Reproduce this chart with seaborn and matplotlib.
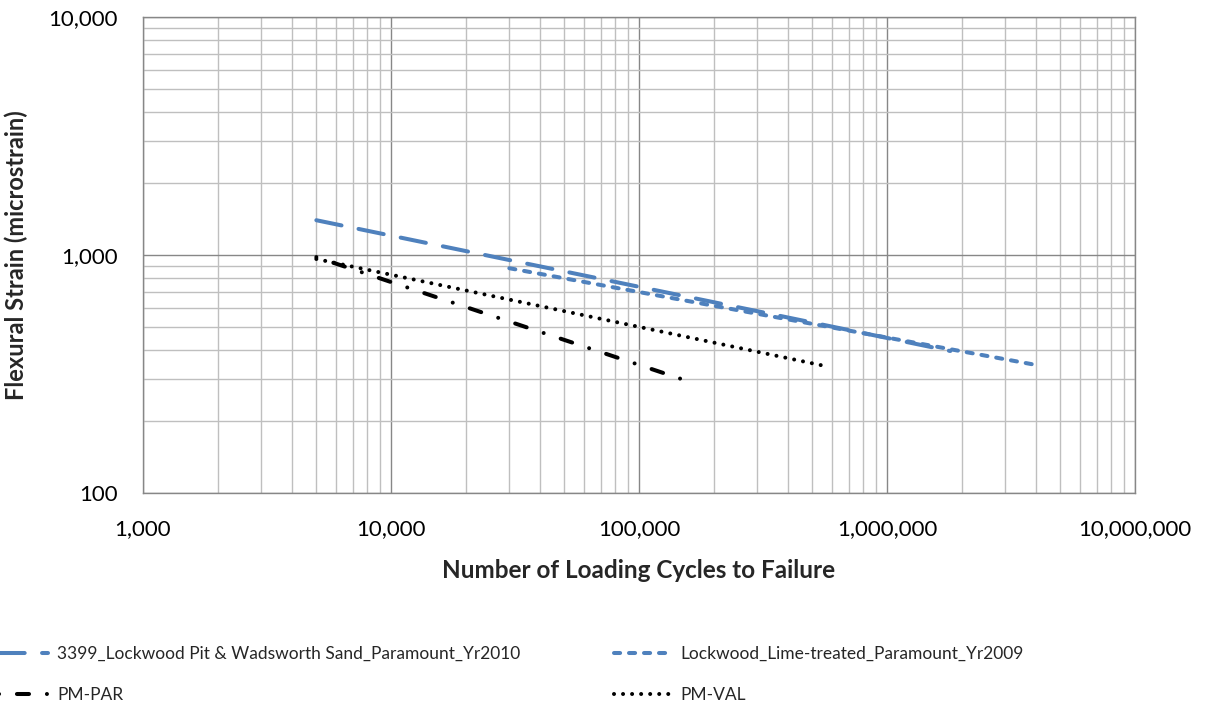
import numpy as np
import pandas as pd
import matplotlib
matplotlib.use("Agg")
import matplotlib.pyplot as plt
import seaborn as sns
from matplotlib.ticker import FixedLocator, LogLocator, NullFormatter, FuncFormatter

# Fatigue lines: endpoints (cycles to failure, flexural strain in microstrain)
series_names = [
    "3399_Lockwood Pit & Wadsworth Sand_Paramount_Yr2010",
    "Lockwood_Lime-treated_Paramount_Yr2009",
    "PM-PAR",
    "PM-VAL",
]
cycles_3399 = [5000, 1800000]
strain_3399 = [1400, 395]
cycles_lime = [30000, 4000000]
strain_lime = [880, 345]
cycles_par = [5000, 150000]
strain_par = [980, 300]
cycles_val = [5000, 560000]
strain_val = [962, 342]

x_ticks = [1000, 10000, 100000, 1000000, 10000000]
y_ticks = [100, 1000, 10000]

sns.set_style("white")
plt.rcParams["font.family"] = ["Lato", "DejaVu Sans"]
plt.rcParams["lines.scale_dashes"] = False

W, H = 1209, 708
blue = "#4F81BD"
styles = {
    series_names[0]: dict(color=blue, lw=2.9, ls=(0, (18.5, 12.5))),
    series_names[1]: dict(color=blue, lw=2.9, ls=(0, (4.4, 6.4))),
    series_names[2]: dict(color="black", lw=2.9, ls=(21.6, (8.7, 12.9, 0.01, 12.9))),
    series_names[3]: dict(color="black", lw=2.9, ls=(0, (0.01, 6.5))),
}

frames = []
for name, xs, ys in [
    (series_names[0], cycles_3399, strain_3399),
    (series_names[1], cycles_lime, strain_lime),
    (series_names[2], cycles_par, strain_par),
    (series_names[3], cycles_val, strain_val),
]:
    frames.append(pd.DataFrame({"cycles": xs, "strain": ys, "series": name}))
df = pd.concat(frames, ignore_index=True)

fig = plt.figure(figsize=(W / 100, H / 100), dpi=100)
ax = fig.add_axes([143 / W, 1 - 493 / H, 992 / W, 476 / H])

ax.set_xscale("log")
ax.set_yscale("log")

handles = []
for name in series_names:
    sub = df[df["series"] == name]
    st = styles[name]
    sns.lineplot(data=sub, x="cycles", y="strain", ax=ax, color=st["color"],
                 linewidth=st["lw"], legend=False, zorder=3)
    line = ax.lines[-1]
    line.set_linestyle(st["ls"])
    line.set_dash_capstyle("round")
    handles.append(line)

ax.set_xlim(1000, 10000000)
ax.set_ylim(100, 10000)

ax.xaxis.set_major_locator(FixedLocator(x_ticks))
ax.yaxis.set_major_locator(FixedLocator(y_ticks))
ax.xaxis.set_minor_locator(LogLocator(base=10, subs=np.arange(2, 10)))
ax.yaxis.set_minor_locator(LogLocator(base=10, subs=np.arange(2, 10)))
ax.xaxis.set_minor_formatter(NullFormatter())
ax.yaxis.set_minor_formatter(NullFormatter())
comma = FuncFormatter(lambda v, p: f"{int(round(v)):,}")
ax.xaxis.set_major_formatter(comma)
ax.yaxis.set_major_formatter(comma)

ax.grid(True, which="minor", color="#BFBFBF", linewidth=1.0, zorder=0)
ax.grid(True, which="major", color="#878787", linewidth=1.0, zorder=1)
ax.set_axisbelow(True)
for s in ax.spines.values():
    s.set_color("#878787")
    s.set_linewidth(1.0)

ax.tick_params(axis="both", which="both", length=0, labelsize=16, colors="black")
ax.tick_params(axis="x", pad=19)
ax.tick_params(axis="y", pad=18)

ax.set_xlabel("Number of Loading Cycles to Failure", fontsize=17.5, fontweight="bold", va="center")
ax.xaxis.set_label_coords(0.5, -(570 - 493) / 476)
ax.set_ylabel("Flexural Strain (microstrain)", fontsize=17, fontweight="bold", va="center")
ax.yaxis.set_label_coords(-(143 - 16) / 992, 0.5)

leg_kw = dict(frameon=False, fontsize=12.5, handlelength=3.3, handletextpad=0.5,
              labelspacing=1.45, borderpad=0, borderaxespad=0, loc="upper left")
leg1 = fig.legend([handles[0], handles[2]], [series_names[0], series_names[2]],
                  bbox_to_anchor=(-9 / W, 1 - 646 / H), **leg_kw)
leg2 = fig.legend([handles[1], handles[3]], [series_names[1], series_names[3]],
                  bbox_to_anchor=(614 / W, 1 - 646 / H), **leg_kw)

fig.savefig("out.png", dpi=100)
